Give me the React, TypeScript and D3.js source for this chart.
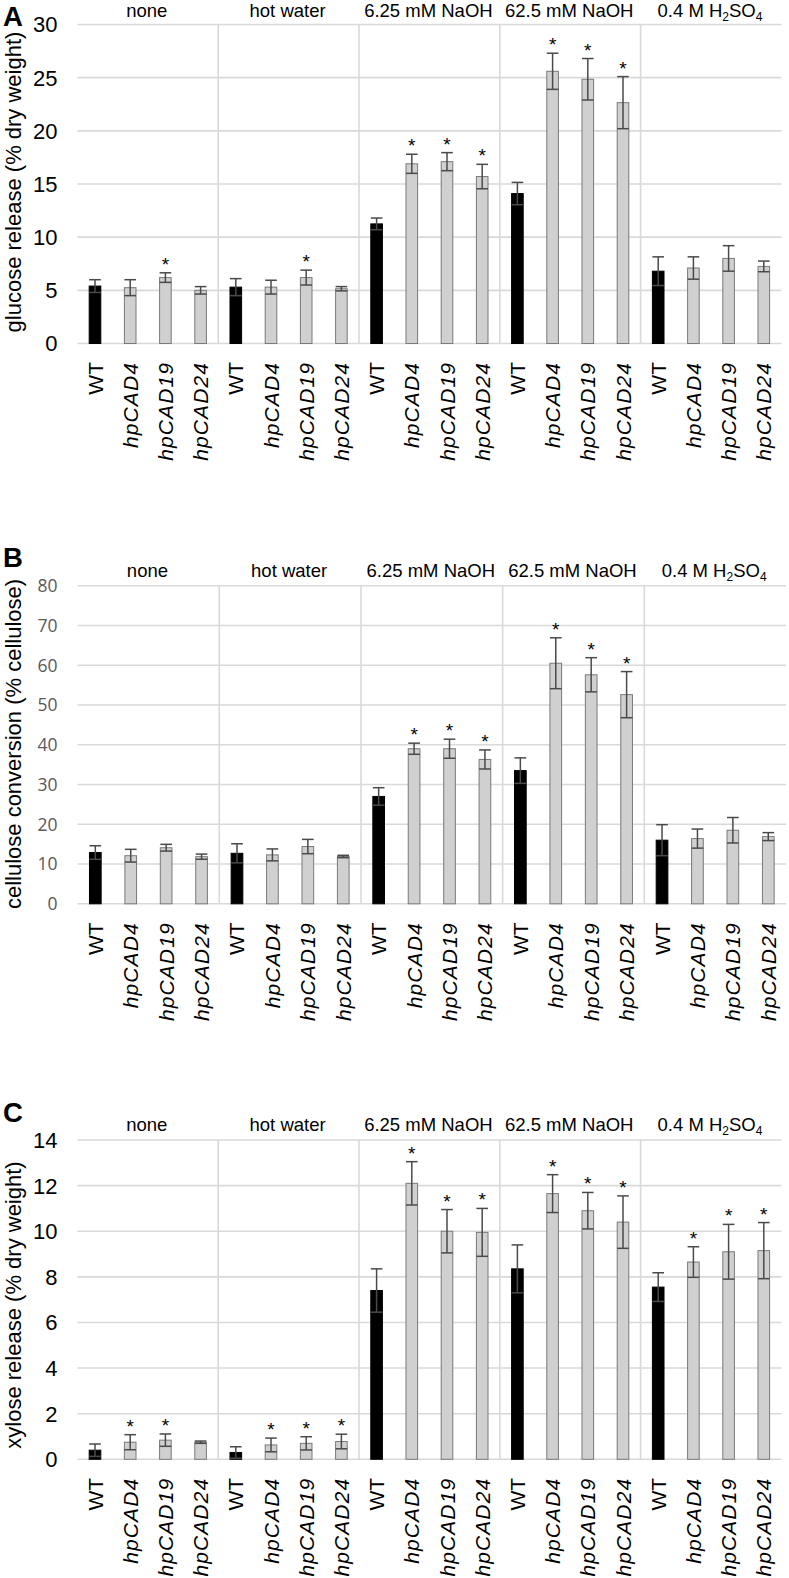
import React from "react";
import * as d3 from "d3";

const treatments = ["none", "hot water", "6.25 mM NaOH", "62.5 mM NaOH", "0.4 M H2SO4"];
const genotypes = ["WT", "hpCAD4", "hpCAD19", "hpCAD24"];

const glucoseMean = [5.4, 5.25, 6.2, 5.0, 5.3, 5.3, 6.2, 5.15, 11.25, 16.9, 17.1, 15.7, 14.1, 25.6, 24.85, 22.65, 6.8, 7.1, 8.0, 7.25];
const glucoseErr = [0.6, 0.75, 0.45, 0.35, 0.8, 0.65, 0.7, 0.2, 0.55, 0.9, 0.85, 1.15, 1.05, 1.7, 1.95, 2.45, 1.35, 1.05, 1.2, 0.5];
const glucoseSig = [0, 0, 1, 0, 0, 0, 1, 0, 0, 1, 1, 1, 0, 1, 1, 1, 0, 0, 0, 0];
const glucoseTicks = [0, 5, 10, 15, 20, 25, 30];

const celluloseMean = [12.9, 12.1, 14.1, 11.85, 12.7, 12.3, 14.4, 11.9, 27.0, 39.0, 39.0, 36.3, 33.5, 60.5, 57.6, 52.6, 16.0, 16.4, 18.5, 16.9];
const celluloseErr = [1.7, 1.6, 0.85, 0.65, 2.4, 1.5, 1.8, 0.3, 2.2, 1.4, 2.4, 2.4, 3.2, 6.4, 4.3, 5.8, 3.9, 2.4, 3.2, 1.0];
const celluloseSig = [0, 0, 0, 0, 0, 0, 0, 0, 0, 1, 1, 1, 0, 1, 1, 1, 0, 0, 0, 0];
const celluloseTicks = [0, 10, 20, 30, 40, 50, 60, 70, 80];

const xyloseMean = [0.4, 0.75, 0.84, 0.75, 0.3, 0.63, 0.7, 0.78, 7.4, 12.1, 10.0, 9.95, 8.35, 11.65, 10.9, 10.4, 7.55, 8.65, 9.1, 9.15];
const xyloseErr = [0.27, 0.33, 0.27, 0.05, 0.25, 0.3, 0.29, 0.32, 0.95, 0.95, 0.95, 1.05, 1.05, 0.83, 0.8, 1.15, 0.63, 0.67, 1.2, 1.23];
const xyloseSig = [0, 1, 1, 0, 0, 1, 1, 1, 0, 1, 1, 1, 0, 1, 1, 1, 0, 1, 1, 1];
const xyloseTicks = [0, 2, 4, 6, 8, 10, 12, 14];

const FONT = "Liberation Sans, Arial, Helvetica, sans-serif";

type PanelProps = {
  letter: string;
  letterY: number;
  groupLabelY: number;
  top: number;
  bottom: number;
  x0: number;
  x1: number;
  title: string;
  titleY: number;
  means: number[];
  errs: number[];
  sig: number[];
  ticks: number[];
  tickColor: string;
  tickFont: string;
  tickSize: number;
};

function GroupLabel({ name, x, y }: { name: string; x: number; y: number }) {
  if (name === "0.4 M H2SO4") {
    return (
      <text x={x} y={y} textAnchor="middle" fontSize={18.5} fontFamily={FONT} fill="#000">
        0.4 M H<tspan fontSize={12} dy={4}>2</tspan>
        <tspan dy={-4}>SO</tspan>
        <tspan fontSize={12} dy={4}>4</tspan>
      </text>
    );
  }
  return (
    <text x={x} y={y} textAnchor="middle" fontSize={18.5} fontFamily={FONT} fill="#000">
      {name}
    </text>
  );
}

function Panel(p: PanelProps) {
  const categories: string[] = [];
  treatments.forEach((t) => genotypes.forEach((g) => categories.push(t + "|" + g)));
  const x = d3.scaleBand<string>().domain(categories).range([p.x0, p.x1]).paddingInner(0.67).paddingOuter(0.335);
  const xg = d3.scaleBand<string>().domain(treatments).range([p.x0, p.x1]);
  const yMax = p.ticks[p.ticks.length - 1];
  const y = d3.scaleLinear().domain([0, yMax]).range([p.bottom, p.top]);
  const bw = x.bandwidth();
  const grid = "#d9d9d9";
  return (
    <g>
      <text x={3} y={p.letterY} fontSize={27.5} fontWeight="bold" fontFamily={FONT} fill="#000">
        {p.letter}
      </text>
      {treatments.map((t) => (
        <GroupLabel key={t} name={t} x={(xg(t) as number) + xg.bandwidth() / 2 - 1} y={p.groupLabelY} />
      ))}
      {p.ticks.map((t) => (
        <g key={t}>
          <line x1={p.x0} x2={p.x1} y1={y(t)} y2={y(t)} stroke={grid} strokeWidth={1.6} />
          <text
            x={57.5}
            y={y(t)}
            dy="0.36em"
            textAnchor="end"
            fontSize={p.tickSize}
            fontFamily={p.tickFont}
            fill={p.tickColor}
          >
            {t}
          </text>
        </g>
      ))}
      {treatments.slice(1).map((t) => (
        <line
          key={t}
          x1={xg(t) as number}
          x2={xg(t) as number}
          y1={p.top}
          y2={p.bottom}
          stroke={grid}
          strokeWidth={1.6}
        />
      ))}
      <text
        transform={`translate(20.5,${p.titleY}) rotate(-90)`}
        textAnchor="middle"
        fontSize={22}
        fontFamily={FONT}
        fill="#000"
      >
        {p.title}
      </text>
      {categories.map((c, i) => {
        const cx = (x(c) as number) + bw / 2;
        const g = genotypes[i % 4];
        const isWT = g === "WT";
        const v = p.means[i];
        const e = p.errs[i];
        const yTop = y(v + e);
        const yBot = y(Math.max(0, v - e));
        return (
          <g key={c}>
            <rect
              x={cx - bw / 2}
              y={y(v)}
              width={bw}
              height={p.bottom - y(v)}
              fill={isWT ? "#000" : "#d0d0d0"}
              stroke={isWT ? "#000" : "#7a7a7a"}
              strokeWidth={1}
            />
            <line x1={cx} x2={cx} y1={yTop} y2={yBot} stroke="#4a4a4a" strokeWidth={1.5} />
            <line x1={cx - bw / 2} x2={cx + bw / 2} y1={yTop} y2={yTop} stroke="#4a4a4a" strokeWidth={1.5} />
            <line x1={cx - bw / 2} x2={cx + bw / 2} y1={yBot} y2={yBot} stroke="#4a4a4a" strokeWidth={1.5} />
            {p.sig[i] ? (
              <text x={cx} y={yTop - 2} textAnchor="middle" fontSize={19} fontFamily={FONT} fill="#000">
                *
              </text>
            ) : null}
            <text
              transform={`translate(${cx + 7.5},${p.bottom + 18.5}) rotate(-90)`}
              textAnchor="end"
              fontSize={21}
              fontStyle={isWT ? "normal" : "italic"}
              letterSpacing={isWT ? 0 : 1.1}
              fontFamily={FONT}
              fill="#000"
            >
              {g}
            </text>
          </g>
        );
      })}
    </g>
  );
}

export default function App() {
  return (
    <svg
      width={789}
      height={1578}
      viewBox="0 0 789 1578"
      style={{ position: "absolute", left: 0, top: 0, background: "#fff" }}
    >
      <rect x={0} y={0} width={789} height={1578} fill="#fff" />
      <Panel
        letter="A"
        letterY={25.5}
        groupLabelY={16.5}
        top={24.5}
        bottom={343.5}
        x0={77.4}
        x1={781.4}
        title="glucose release (% dry weight)"
        titleY={182}
        means={glucoseMean}
        errs={glucoseErr}
        sig={glucoseSig}
        ticks={glucoseTicks}
        tickColor="#000"
        tickFont={FONT}
        tickSize={22}
      />
      <Panel
        letter="B"
        letterY={566.5}
        groupLabelY={576.5}
        top={585.7}
        bottom={903.8}
        x0={77.6}
        x1={786}
        title="cellulose conversion (% cellulose)"
        titleY={744}
        means={celluloseMean}
        errs={celluloseErr}
        sig={celluloseSig}
        ticks={celluloseTicks}
        tickColor="#595959"
        tickFont="Open Sans, sans-serif"
        tickSize={17.5}
      />
      <Panel
        letter="C"
        letterY={1121.5}
        groupLabelY={1130.5}
        top={1140}
        bottom={1459.3}
        x0={77.4}
        x1={781.4}
        title="xylose release (% dry weight)"
        titleY={1305}
        means={xyloseMean}
        errs={xyloseErr}
        sig={xyloseSig}
        ticks={xyloseTicks}
        tickColor="#000"
        tickFont={FONT}
        tickSize={22}
      />
    </svg>
  );
}
